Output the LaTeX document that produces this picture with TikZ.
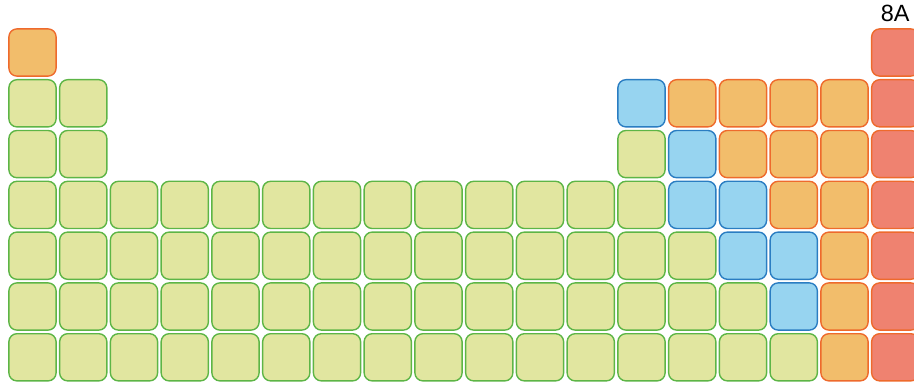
\documentclass[tikz,border=0pt]{standalone}
\usepackage{fontspec}
\setmainfont{Liberation Sans}
\usepackage{xcolor}
\usepackage{tikz}
\usetikzlibrary{positioning}
\definecolor{gfill}{HTML}{E1E6A0}
\definecolor{gline}{HTML}{5DB546}
\definecolor{bfill}{HTML}{97D4F0}
\definecolor{bline}{HTML}{2A7DC2}
\definecolor{ofill}{HTML}{F2BD6B}
\definecolor{oline}{HTML}{EE6A2C}
\definecolor{rfill}{HTML}{EF8270}
\tikzstyle{cell}     = [rectangle, rounded corners=6pt, minimum size=35.4pt, inner sep=0pt, line width=1.05pt]
\tikzstyle{metal}    = [cell, draw=gline, fill=gfill]
\tikzstyle{semi}     = [cell, draw=bline, fill=bfill]
\tikzstyle{nonmetal} = [cell, draw=oline, fill=ofill]
\tikzstyle{noble}    = [cell, draw=oline, fill=rfill]
\newcommand{\elem}[3]{\node[#3] (e#1-#2) at ({32.5+(#2-1)*50.75},{52.5+(#1-1)*50.8}) {};}

\begin{document}
\begin{tikzpicture}[x=0.75pt, y=-0.75pt]
    \useasboundingbox (0,0) rectangle (914,392);
    \clip (0,0) rectangle (914,392);

    % rows 1-3
    \foreach \c/\s in {1/nonmetal,18/noble} {\elem{1}{\c}{\s}}
    \foreach \c/\s in {1/metal,2/metal,13/semi,14/nonmetal,15/nonmetal,16/nonmetal,17/nonmetal,18/noble} {\elem{2}{\c}{\s}}
    \foreach \c/\s in {1/metal,2/metal,13/metal,14/semi,15/nonmetal,16/nonmetal,17/nonmetal,18/noble} {\elem{3}{\c}{\s}}

    % rows 4-7
    \foreach \c in {1,...,13} {\elem{4}{\c}{metal}}
    \foreach \c/\s in {14/semi,15/semi,16/nonmetal,17/nonmetal,18/noble} {\elem{4}{\c}{\s}}
    \foreach \c in {1,...,14} {\elem{5}{\c}{metal}}
    \foreach \c/\s in {15/semi,16/semi,17/nonmetal,18/noble} {\elem{5}{\c}{\s}}
    \foreach \c in {1,...,15} {\elem{6}{\c}{metal}}
    \foreach \c/\s in {16/semi,17/nonmetal,18/noble} {\elem{6}{\c}{\s}}
    \foreach \c in {1,...,16} {\elem{7}{\c}{metal}}
    \foreach \c/\s in {17/nonmetal,18/noble} {\elem{7}{\c}{\s}}

    \node (grp) [above=4.3pt of e1-18, inner sep=0pt, font=\fontsize{17.6}{21}\selectfont] {8A};
\end{tikzpicture}
\end{document}
